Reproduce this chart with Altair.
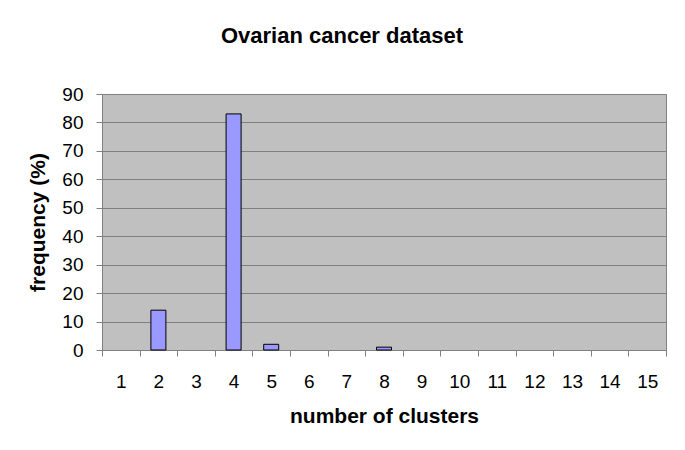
import altair as alt
import pandas as pd

clusters = [str(i) for i in range(1, 16)]
frequency = [0, 14, 0, 83, 2, 0, 0, 1, 0, 0, 0, 0, 0, 0, 0]

df = pd.DataFrame({"clusters": clusters, "frequency": frequency})

FONT = "Liberation Sans"

chart = alt.Chart(df).transform_filter(
    "datum.frequency > 0"
).mark_bar(
    width=15, color="#9999FF", stroke="#000000", strokeWidth=1
).encode(
    x=alt.X(
        "clusters:N",
        sort=clusters,
        scale=alt.Scale(domain=clusters, paddingInner=0, paddingOuter=0),
        axis=alt.Axis(
            title="number of clusters",
            labelAngle=0,
            tickBand="extent",
            tickSize=6,
            tickColor="#808080",
            domainColor="#808080",
            labelPadding=16,
            titlePadding=14,
            labelFontSize=19,
            titleFontSize=21,
            grid=False,
        ),
    ),
    y=alt.Y(
        "frequency:Q",
        scale=alt.Scale(domain=[0, 90], nice=False),
        axis=alt.Axis(
            title="frequency (%)",
            values=list(range(0, 100, 10)),
            tickSize=6,
            tickColor="#808080",
            domainColor="#808080",
            gridColor="#808080",
            gridOpacity=1,
            labelPadding=13,
            titlePadding=13,
            labelFontSize=19,
            titleFontSize=21,
        ),
    ),
).properties(
    width=564,
    height=256,
    background="#FFFFFF",
    title=alt.TitleParams(
        "Ovarian cancer dataset",
        fontSize=22,
        fontWeight="bold",
        font=FONT,
        anchor="middle",
        baseline="alphabetic",
        offset=20,
        dx=-42,
        color="#000000",
    ),
    autosize=alt.AutoSizeParams(type="none"),
    padding={"left": 94, "top": 86, "right": 11, "bottom": 92},
).configure_view(
    fill="#C0C0C0", stroke="#808080", strokeWidth=1
).configure_axis(
    labelFont=FONT,
    titleFont=FONT,
    labelColor="#000000",
    titleColor="#000000",
    titleFontWeight="bold",
)

chart.save("out.html", embed_options={"renderer": "svg", "actions": False})
